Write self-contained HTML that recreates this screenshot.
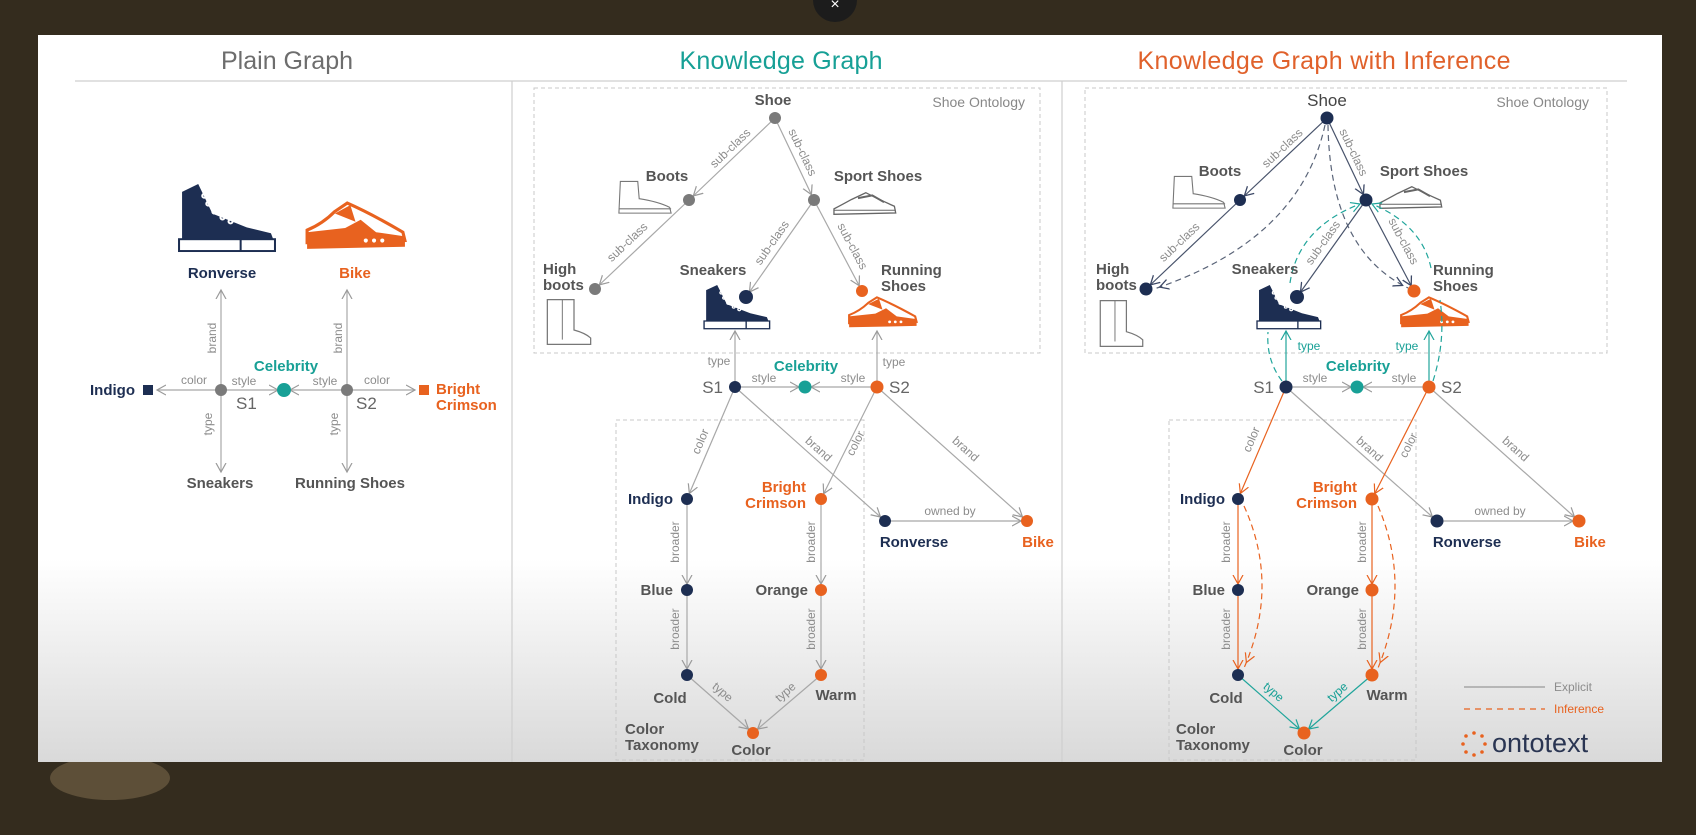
<!DOCTYPE html>
<html><head><meta charset="utf-8"><style>
html,body{margin:0;padding:0;background:#342c1e;}
svg{display:block;font-family:"Liberation Sans",sans-serif;}
.el{font-size:12px;fill:#8c8c8c;}
.nl{font-size:15px;font-weight:bold;fill:#555;}
.nv{fill:#1d2e52;}
.or{fill:#e8621f;}
.tl{fill:#18a096;}
</style></head><body>
<svg width="1696" height="835" viewBox="0 0 1696 835" xmlns="http://www.w3.org/2000/svg">
<defs>
<linearGradient id="bg" x1="0" y1="0" x2="0" y2="1">
<stop offset="0" stop-color="#ffffff"/><stop offset="0.72" stop-color="#ffffff"/><stop offset="1" stop-color="#d9d9d9"/>
</linearGradient>
<marker id="g" markerUnits="userSpaceOnUse" markerWidth="30" markerHeight="12" refX="15" refY="5" orient="auto" viewBox="0 0 30 10"><path d="M0,0 L9,5 L0,10" fill="none" stroke="#9a9a9a" stroke-width="1.2"/></marker>
<marker id="g0" markerUnits="userSpaceOnUse" markerWidth="12" markerHeight="12" refX="9" refY="5" orient="auto" viewBox="0 0 12 10"><path d="M0,0 L9,5 L0,10" fill="none" stroke="#9a9a9a" stroke-width="1.2"/></marker>
<marker id="n" markerUnits="userSpaceOnUse" markerWidth="30" markerHeight="12" refX="15" refY="5" orient="auto" viewBox="0 0 30 10"><path d="M0,0 L9,5 L0,10" fill="none" stroke="#3c4866" stroke-width="1.3"/></marker>
<marker id="o" markerUnits="userSpaceOnUse" markerWidth="30" markerHeight="12" refX="15" refY="5" orient="auto" viewBox="0 0 30 10"><path d="M0,0 L9,5 L0,10" fill="none" stroke="#e8621f" stroke-width="1.2"/></marker>
<marker id="t" markerUnits="userSpaceOnUse" markerWidth="30" markerHeight="12" refX="15" refY="5" orient="auto" viewBox="0 0 30 10"><path d="M0,0 L9,5 L0,10" fill="none" stroke="#20a59b" stroke-width="1.2"/></marker>
<marker id="t0" markerUnits="userSpaceOnUse" markerWidth="12" markerHeight="12" refX="9" refY="5" orient="auto" viewBox="0 0 12 10"><path d="M0,0 L9,5 L0,10" fill="none" stroke="#20a59b" stroke-width="1.2"/></marker>
<symbol id="hightop" viewBox="0 0 100 70" preserveAspectRatio="none">
<path d="M6,8 L22,0 L36,30 L70,44 L94,50 L97,58 L6,58 Z" fill="#1d2e52"/>
<rect x="3" y="56" width="95" height="12" fill="#fff" stroke="#1d2e52" stroke-width="2"/>
<line x1="64" y1="56" x2="64" y2="68" stroke="#1d2e52" stroke-width="2"/>
<g fill="none" stroke="#fff" stroke-width="2"><circle cx="28" cy="12" r="2"/><circle cx="32" cy="20" r="2"/><circle cx="38" cy="28" r="2"/><circle cx="46" cy="34" r="2"/><circle cx="54" cy="38" r="2"/></g>
</symbol>
<symbol id="runner" viewBox="0 0 100 50" preserveAspectRatio="none">
<path d="M3,28 Q18,22 30,10 L42,2 Q65,12 96,30 L98,38 L3,40 Z" fill="#fff" stroke="#e8621f" stroke-width="3"/>
<path d="M3,30 L40,26 L55,18 L70,30 L98,34 L98,44 L3,46 Z" fill="#e8621f"/>
<path d="M30,12 L45,4 L50,20 Z" fill="#e8621f"/>
<g fill="#fff"><circle cx="60" cy="38" r="2"/><circle cx="68" cy="38" r="2"/><circle cx="76" cy="38" r="2"/></g>
</symbol>
<symbol id="boot" viewBox="0 0 80 50" preserveAspectRatio="none">
<path d="M6,2 L30,2 L32,26 Q58,30 74,38 L76,46 L4,46 Z" fill="#fff" stroke="#777" stroke-width="1.5"/>
<line x1="4" y1="40" x2="76" y2="40" stroke="#777" stroke-width="1.5"/>
</symbol>
<symbol id="tall" viewBox="0 0 60 60" preserveAspectRatio="none">
<path d="M4,2 L36,2 L36,40 Q50,44 56,50 L56,58 L4,58 Z" fill="#fff" stroke="#777" stroke-width="1.5"/>
<line x1="22" y1="2" x2="22" y2="52" stroke="#777" stroke-width="1.2"/>
</symbol>
<symbol id="sport" viewBox="0 0 100 40" preserveAspectRatio="none">
<path d="M3,28 Q15,22 30,14 L52,4 Q72,14 96,24 L98,34 L3,36 Z" fill="#fff" stroke="#666" stroke-width="2"/>
<path d="M40,12 L62,8 L80,18" fill="none" stroke="#666" stroke-width="3"/>
<line x1="3" y1="30" x2="98" y2="30" stroke="#666" stroke-width="1.5"/>
</symbol>
</defs>

<rect width="1696" height="835" fill="#342c1e"/>
<ellipse cx="110" cy="778" rx="60" ry="22" fill="#5d4f38"/>
<circle cx="835" cy="0" r="22" fill="#1c1c1c"/>
<text x="835" y="9" text-anchor="middle" font-size="16" fill="#fff">×</text>
<rect x="38" y="35" width="1624" height="727" fill="url(#bg)"/>

<!-- titles -->
<text x="287" y="69" text-anchor="middle" font-size="25" fill="#6d6d6d" textLength="132">Plain Graph</text>
<text x="781" y="69" text-anchor="middle" font-size="25" fill="#17a096" textLength="203">Knowledge Graph</text>
<text x="1324" y="69" text-anchor="middle" font-size="25" fill="#e0612b" textLength="373">Knowledge Graph with Inference</text>
<line x1="75" y1="81" x2="1627" y2="81" stroke="#cfcfcf" stroke-width="1.2"/>
<line x1="512" y1="81" x2="512" y2="762" stroke="#cfcfcf" stroke-width="1.2"/>
<line x1="1062" y1="81" x2="1062" y2="762" stroke="#cfcfcf" stroke-width="1.2"/>

<!-- ===== Panel 1 ===== -->
<svg x="176" y="184" width="101" height="69" viewBox="0 0 100 70" preserveAspectRatio="none"><use href="#hightop"/></svg>
<svg x="304" y="201" width="103" height="52" viewBox="0 0 100 50" preserveAspectRatio="none"><use href="#runner"/></svg>
<text x="222" y="278" text-anchor="middle" class="nl nv">Ronverse</text>
<text x="355" y="278" text-anchor="middle" class="nl or">Bike</text>
<g stroke="#a8a8a8" stroke-width="1.2" fill="none">
<line x1="221" y1="390" x2="157" y2="390" marker-end="url(#g0)"/>
<line x1="221" y1="390" x2="221" y2="290" marker-end="url(#g0)"/>
<line x1="221" y1="390" x2="221" y2="472" marker-end="url(#g0)"/>
<line x1="221" y1="390" x2="284" y2="390" marker-end="url(#g)"/>
<line x1="347" y1="390" x2="284" y2="390" marker-end="url(#g)"/>
<line x1="347" y1="390" x2="415" y2="390" marker-end="url(#g0)"/>
<line x1="347" y1="390" x2="347" y2="290" marker-end="url(#g0)"/>
<line x1="347" y1="390" x2="347" y2="472" marker-end="url(#g0)"/>
</g>
<circle cx="221" cy="390" r="6" fill="#7a7a7a"/>
<circle cx="347" cy="390" r="6" fill="#7a7a7a"/>
<circle cx="284" cy="390" r="7" fill="#18a096"/>
<rect x="143" y="385" width="10" height="10" fill="#1d2e52"/>
<rect x="419" y="385" width="10" height="10" fill="#e8621f"/>
<text x="135" y="395" text-anchor="end" class="nl nv">Indigo</text>
<text x="436" y="394" class="nl or">Bright</text>
<text x="436" y="410" class="nl or">Crimson</text>
<text x="286" y="371" text-anchor="middle" class="nl tl">Celebrity</text>
<text x="236" y="409" font-size="17" fill="#666">S1</text>
<text x="356" y="409" font-size="17" fill="#666">S2</text>
<text x="220" y="488" text-anchor="middle" class="nl">Sneakers</text>
<text x="350" y="488" text-anchor="middle" class="nl">Running Shoes</text>
<text x="194" y="384" text-anchor="middle" class="el">color</text>
<text x="244" y="385" text-anchor="middle" class="el">style</text>
<text x="325" y="385" text-anchor="middle" class="el">style</text>
<text x="377" y="384" text-anchor="middle" class="el">color</text>
<text transform="translate(216,338) rotate(-90)" text-anchor="middle" class="el">brand</text>
<text transform="translate(212,424) rotate(-90)" text-anchor="middle" class="el">type</text>
<text transform="translate(342,338) rotate(-90)" text-anchor="middle" class="el">brand</text>
<text transform="translate(338,424) rotate(-90)" text-anchor="middle" class="el">type</text>

<!-- ===== Panel 2 ===== -->
<rect x="534" y="88" width="506" height="265" fill="none" stroke="#c8c8c8" stroke-dasharray="4,3"/>
<rect x="616" y="420" width="248" height="340" fill="none" stroke="#c8c8c8" stroke-dasharray="4,3"/>
<text x="1025" y="107" text-anchor="end" font-size="14" fill="#888">Shoe Ontology</text>
<svg x="616" y="180" width="58" height="36" viewBox="0 0 80 50" preserveAspectRatio="none"><use href="#boot"/></svg>
<svg x="832" y="190" width="65" height="27" viewBox="0 0 100 40" preserveAspectRatio="none"><use href="#sport"/></svg>
<svg x="544" y="298" width="50" height="48" viewBox="0 0 60 60" preserveAspectRatio="none"><use href="#tall"/></svg>
<svg x="702" y="285" width="69" height="45" viewBox="0 0 100 70" preserveAspectRatio="none"><use href="#hightop"/></svg>
<svg x="847" y="296" width="71" height="34" viewBox="0 0 100 50" preserveAspectRatio="none"><use href="#runner"/></svg>
<g stroke="#a8a8a8" stroke-width="1.2" fill="none">
<line x1="775" y1="118" x2="689" y2="200" marker-end="url(#g)"/>
<line x1="775" y1="118" x2="814" y2="200" marker-end="url(#g)"/>
<line x1="689" y1="200" x2="595" y2="289" marker-end="url(#g)"/>
<line x1="814" y1="200" x2="746" y2="297" marker-end="url(#g)"/>
<line x1="814" y1="200" x2="862" y2="291" marker-end="url(#g)"/>
<line x1="735" y1="387" x2="735" y2="331" marker-end="url(#g0)"/>
<line x1="877" y1="387" x2="877" y2="331" marker-end="url(#g0)"/>
<line x1="735" y1="387" x2="805" y2="387" marker-end="url(#g)"/>
<line x1="877" y1="387" x2="805" y2="387" marker-end="url(#g)"/>
<line x1="735" y1="387" x2="687" y2="499" marker-end="url(#g)"/>
<line x1="735" y1="387" x2="885" y2="521" marker-end="url(#g)"/>
<line x1="877" y1="387" x2="821" y2="499" marker-end="url(#g)"/>
<line x1="877" y1="387" x2="1027" y2="521" marker-end="url(#g)"/>
<line x1="885" y1="521" x2="1027" y2="521" marker-end="url(#g)"/>
<line x1="687" y1="499" x2="687" y2="590" marker-end="url(#g)"/>
<line x1="687" y1="590" x2="687" y2="675" marker-end="url(#g)"/>
<line x1="821" y1="499" x2="821" y2="590" marker-end="url(#g)"/>
<line x1="821" y1="590" x2="821" y2="675" marker-end="url(#g)"/>
<line x1="687" y1="675" x2="753" y2="733" marker-end="url(#g)"/>
<line x1="821" y1="675" x2="753" y2="733" marker-end="url(#g)"/>
</g>
<g fill="#7a7a7a"><circle cx="775" cy="118" r="6"/><circle cx="689" cy="200" r="6"/><circle cx="814" cy="200" r="6"/><circle cx="595" cy="289" r="6"/></g>
<circle cx="746" cy="297" r="7" fill="#1d2e52"/>
<circle cx="862" cy="291" r="6" fill="#e8621f"/>
<circle cx="735" cy="387" r="6" fill="#1d2e52"/>
<circle cx="877" cy="387" r="6.5" fill="#e8621f"/>
<circle cx="805" cy="387" r="6.5" fill="#18a096"/>
<g fill="#1d2e52"><circle cx="687" cy="499" r="6"/><circle cx="687" cy="590" r="6"/><circle cx="687" cy="675" r="6"/><circle cx="885" cy="521" r="6"/></g>
<g fill="#e8621f"><circle cx="821" cy="499" r="6"/><circle cx="821" cy="590" r="6"/><circle cx="821" cy="675" r="6"/><circle cx="1027" cy="521" r="6"/><circle cx="753" cy="733" r="6"/></g>
<text x="773" y="105" text-anchor="middle" class="nl">Shoe</text>
<text x="667" y="181" text-anchor="middle" class="nl">Boots</text>
<text x="878" y="181" text-anchor="middle" class="nl">Sport Shoes</text>
<text x="543" y="274" class="nl">High</text>
<text x="543" y="290" class="nl">boots</text>
<text x="713" y="275" text-anchor="middle" class="nl">Sneakers</text>
<text x="881" y="275" class="nl">Running</text>
<text x="881" y="291" class="nl">Shoes</text>
<text x="806" y="371" text-anchor="middle" class="nl tl">Celebrity</text>
<text x="723" y="393" text-anchor="end" font-size="17" fill="#666">S1</text>
<text x="889" y="393" font-size="17" fill="#666">S2</text>
<text x="719" y="365" text-anchor="middle" class="el">type</text>
<text x="894" y="366" text-anchor="middle" class="el">type</text>
<text x="764" y="382" text-anchor="middle" class="el">style</text>
<text x="853" y="382" text-anchor="middle" class="el">style</text>
<text x="673" y="504" text-anchor="end" class="nl nv">Indigo</text>
<text x="806" y="492" text-anchor="end" class="nl or">Bright</text>
<text x="806" y="508" text-anchor="end" class="nl or">Crimson</text>
<text x="914" y="547" text-anchor="middle" class="nl nv">Ronverse</text>
<text x="1038" y="547" text-anchor="middle" class="nl or">Bike</text>
<text x="950" y="515" text-anchor="middle" class="el">owned by</text>
<text x="673" y="595" text-anchor="end" class="nl">Blue</text>
<text x="808" y="595" text-anchor="end" class="nl">Orange</text>
<text x="670" y="703" text-anchor="middle" class="nl">Cold</text>
<text x="836" y="700" text-anchor="middle" class="nl">Warm</text>
<text x="751" y="755" text-anchor="middle" class="nl">Color</text>
<text x="625" y="734" class="nl" font-size="14">Color</text>
<text x="625" y="750" class="nl" font-size="14">Taxonomy</text>
<text transform="translate(733,151) rotate(-43.6)" text-anchor="middle" class="el">sub-class</text>
<text transform="translate(799,154) rotate(64.6)" text-anchor="middle" class="el">sub-class</text>
<text transform="translate(630,245) rotate(-43.4)" text-anchor="middle" class="el">sub-class</text>
<text transform="translate(775,245) rotate(-55)" text-anchor="middle" class="el">sub-class</text>
<text transform="translate(849,248) rotate(62)" text-anchor="middle" class="el">sub-class</text>
<text transform="translate(704,443) rotate(-66.8)" text-anchor="middle" class="el">color</text>
<text transform="translate(816,452) rotate(41.8)" text-anchor="middle" class="el">brand</text>
<text transform="translate(859,445) rotate(-63.4)" text-anchor="middle" class="el">color</text>
<text transform="translate(963,452) rotate(41.8)" text-anchor="middle" class="el">brand</text>
<text transform="translate(679,542) rotate(-90)" text-anchor="middle" class="el">broader</text>
<text transform="translate(679,629) rotate(-90)" text-anchor="middle" class="el">broader</text>
<text transform="translate(815,542) rotate(-90)" text-anchor="middle" class="el">broader</text>
<text transform="translate(815,629) rotate(-90)" text-anchor="middle" class="el">broader</text>
<text transform="translate(720,695) rotate(41)" text-anchor="middle" class="el">type</text>
<text transform="translate(788,695) rotate(-41)" text-anchor="middle" class="el">type</text>

<!-- ===== Panel 3 ===== -->
<rect x="1085" y="88" width="522" height="265" fill="none" stroke="#c8c8c8" stroke-dasharray="4,3"/>
<rect x="1169" y="420" width="247" height="340" fill="none" stroke="#c8c8c8" stroke-dasharray="4,3"/>
<text x="1589" y="107" text-anchor="end" font-size="14" fill="#888">Shoe Ontology</text>
<svg x="1170" y="175" width="58" height="36" viewBox="0 0 80 50" preserveAspectRatio="none"><use href="#boot"/></svg>
<svg x="1378" y="184" width="65" height="27" viewBox="0 0 100 40" preserveAspectRatio="none"><use href="#sport"/></svg>
<svg x="1097" y="299" width="49" height="49" viewBox="0 0 60 60" preserveAspectRatio="none"><use href="#tall"/></svg>
<svg x="1255" y="285" width="67" height="45" viewBox="0 0 100 70" preserveAspectRatio="none"><use href="#hightop"/></svg>
<svg x="1399" y="296" width="71" height="34" viewBox="0 0 100 50" preserveAspectRatio="none"><use href="#runner"/></svg>
<!-- inference dashed -->
<g fill="none" stroke-width="1.2" stroke-dasharray="6,4">
<path d="M1325,125 Q1300,240 1154,289" stroke="#5a6478" marker-end="url(#n)"/>
<path d="M1328,125 Q1330,250 1408,288" stroke="#5a6478" marker-end="url(#n)"/>
<path d="M1290,283 Q1298,228 1360,204" stroke="#20a59b" marker-end="url(#t0)"/>
<path d="M1431,268 Q1422,225 1372,204" stroke="#20a59b" marker-end="url(#t0)"/>
<path d="M1282,381 Q1266,360 1268,332" stroke="#20a59b"/>
<path d="M1433,381 Q1446,340 1440,300" stroke="#20a59b"/>
<path d="M1244,506 Q1280,585 1244,668" stroke="#e8621f" marker-end="url(#o)"/>
<path d="M1378,506 Q1412,585 1378,668" stroke="#e8621f" marker-end="url(#o)"/>
</g>
<g stroke="#48536b" stroke-width="1.2" fill="none">
<line x1="1327" y1="118" x2="1240" y2="200" marker-end="url(#n)"/>
<line x1="1327" y1="118" x2="1366" y2="200" marker-end="url(#n)"/>
<line x1="1240" y1="200" x2="1146" y2="289" marker-end="url(#n)"/>
<line x1="1366" y1="200" x2="1297" y2="297" marker-end="url(#n)"/>
<line x1="1366" y1="200" x2="1414" y2="291" marker-end="url(#n)"/>
</g>
<g stroke="#20a59b" stroke-width="1.2" fill="none">
<line x1="1286" y1="387" x2="1286" y2="331" marker-end="url(#t0)"/>
<line x1="1429" y1="387" x2="1429" y2="331" marker-end="url(#t0)"/>
<line x1="1238" y1="675" x2="1304" y2="733" marker-end="url(#t)"/>
<line x1="1372" y1="675" x2="1304" y2="733" marker-end="url(#t)"/>
</g>
<g stroke="#a8a8a8" stroke-width="1.2" fill="none">
<line x1="1286" y1="387" x2="1357" y2="387" marker-end="url(#g)"/>
<line x1="1429" y1="387" x2="1357" y2="387" marker-end="url(#g)"/>
<line x1="1286" y1="387" x2="1437" y2="521" marker-end="url(#g)"/>
<line x1="1429" y1="387" x2="1579" y2="521" marker-end="url(#g)"/>
<line x1="1437" y1="521" x2="1579" y2="521" marker-end="url(#g)"/>
</g>
<g stroke="#e8621f" stroke-width="1.2" fill="none">
<line x1="1286" y1="387" x2="1238" y2="499" marker-end="url(#o)"/>
<line x1="1429" y1="387" x2="1372" y2="499" marker-end="url(#o)"/>
<line x1="1238" y1="499" x2="1238" y2="590" marker-end="url(#o)"/>
<line x1="1238" y1="590" x2="1238" y2="675" marker-end="url(#o)"/>
<line x1="1372" y1="499" x2="1372" y2="590" marker-end="url(#o)"/>
<line x1="1372" y1="590" x2="1372" y2="675" marker-end="url(#o)"/>
</g>
<g fill="#1d2e52"><circle cx="1327" cy="118" r="6.5"/><circle cx="1240" cy="200" r="6"/><circle cx="1366" cy="200" r="6.5"/><circle cx="1146" cy="289" r="6.5"/><circle cx="1297" cy="297" r="7"/><circle cx="1286" cy="387" r="6.5"/><circle cx="1238" cy="499" r="6"/><circle cx="1238" cy="590" r="6"/><circle cx="1238" cy="675" r="6"/><circle cx="1437" cy="521" r="6.5"/></g>
<g fill="#e8621f"><circle cx="1414" cy="291" r="6.5"/><circle cx="1429" cy="387" r="6.5"/><circle cx="1372" cy="499" r="6.5"/><circle cx="1372" cy="590" r="6.5"/><circle cx="1372" cy="675" r="6.5"/><circle cx="1579" cy="521" r="6.5"/><circle cx="1304" cy="733" r="6.5"/></g>
<circle cx="1357" cy="387" r="6.5" fill="#18a096"/>
<text x="1327" y="106" text-anchor="middle" font-size="17" fill="#444">Shoe</text>
<text x="1220" y="176" text-anchor="middle" class="nl">Boots</text>
<text x="1424" y="176" text-anchor="middle" class="nl">Sport Shoes</text>
<text x="1096" y="274" class="nl">High</text>
<text x="1096" y="290" class="nl">boots</text>
<text x="1265" y="274" text-anchor="middle" class="nl">Sneakers</text>
<text x="1433" y="275" class="nl">Running</text>
<text x="1433" y="291" class="nl">Shoes</text>
<text x="1358" y="371" text-anchor="middle" class="nl tl">Celebrity</text>
<text x="1274" y="393" text-anchor="end" font-size="17" fill="#666">S1</text>
<text x="1441" y="393" font-size="17" fill="#666">S2</text>
<text x="1309" y="350" text-anchor="middle" class="el tl">type</text>
<text x="1407" y="350" text-anchor="middle" class="el tl">type</text>
<text x="1315" y="382" text-anchor="middle" class="el">style</text>
<text x="1404" y="382" text-anchor="middle" class="el">style</text>
<text x="1225" y="504" text-anchor="end" class="nl nv">Indigo</text>
<text x="1357" y="492" text-anchor="end" class="nl or">Bright</text>
<text x="1357" y="508" text-anchor="end" class="nl or">Crimson</text>
<text x="1467" y="547" text-anchor="middle" class="nl nv">Ronverse</text>
<text x="1590" y="547" text-anchor="middle" class="nl or">Bike</text>
<text x="1500" y="515" text-anchor="middle" class="el">owned by</text>
<text x="1225" y="595" text-anchor="end" class="nl">Blue</text>
<text x="1359" y="595" text-anchor="end" class="nl">Orange</text>
<text x="1226" y="703" text-anchor="middle" class="nl">Cold</text>
<text x="1387" y="700" text-anchor="middle" class="nl">Warm</text>
<text x="1303" y="755" text-anchor="middle" class="nl">Color</text>
<text x="1176" y="734" class="nl" font-size="14">Color</text>
<text x="1176" y="750" class="nl" font-size="14">Taxonomy</text>
<text transform="translate(1285,151) rotate(-43.3)" text-anchor="middle" class="el">sub-class</text>
<text transform="translate(1350,154) rotate(64.6)" text-anchor="middle" class="el">sub-class</text>
<text transform="translate(1182,245) rotate(-43.4)" text-anchor="middle" class="el">sub-class</text>
<text transform="translate(1326,245) rotate(-54.6)" text-anchor="middle" class="el">sub-class</text>
<text transform="translate(1400,243) rotate(62)" text-anchor="middle" class="el">sub-class</text>
<text transform="translate(1255,441) rotate(-66.8)" text-anchor="middle" class="el">color</text>
<text transform="translate(1367,452) rotate(41.8)" text-anchor="middle" class="el">brand</text>
<text transform="translate(1412,447) rotate(-63.4)" text-anchor="middle" class="el">color</text>
<text transform="translate(1513,452) rotate(41.8)" text-anchor="middle" class="el">brand</text>
<text transform="translate(1230,542) rotate(-90)" text-anchor="middle" class="el">broader</text>
<text transform="translate(1230,629) rotate(-90)" text-anchor="middle" class="el">broader</text>
<text transform="translate(1366,542) rotate(-90)" text-anchor="middle" class="el">broader</text>
<text transform="translate(1366,629) rotate(-90)" text-anchor="middle" class="el">broader</text>
<text transform="translate(1271,695) rotate(41)" text-anchor="middle" class="el tl">type</text>
<text transform="translate(1340,695) rotate(-41)" text-anchor="middle" class="el tl">type</text>

<!-- legend -->
<line x1="1464" y1="687" x2="1545" y2="687" stroke="#999" stroke-width="1.2"/>
<text x="1554" y="691" class="el">Explicit</text>
<line x1="1464" y1="709" x2="1545" y2="709" stroke="#e8621f" stroke-width="1.2" stroke-dasharray="6,5"/>
<text x="1554" y="713" font-size="12" fill="#e8621f">Inference</text>
<!-- logo -->
<g fill="#e8621f">
<circle cx="1474" cy="733" r="1.8"/><circle cx="1482" cy="736" r="1.8"/><circle cx="1485" cy="744" r="1.8"/><circle cx="1482" cy="752" r="1.8"/><circle cx="1474" cy="755" r="1.8"/><circle cx="1466" cy="752" r="1.8"/><circle cx="1463" cy="744" r="1.8"/><circle cx="1466" cy="736" r="1.8"/>
</g>
<text x="1492" y="752" font-size="27" fill="#2a3552">ontotext</text>
</svg>
</body></html>
